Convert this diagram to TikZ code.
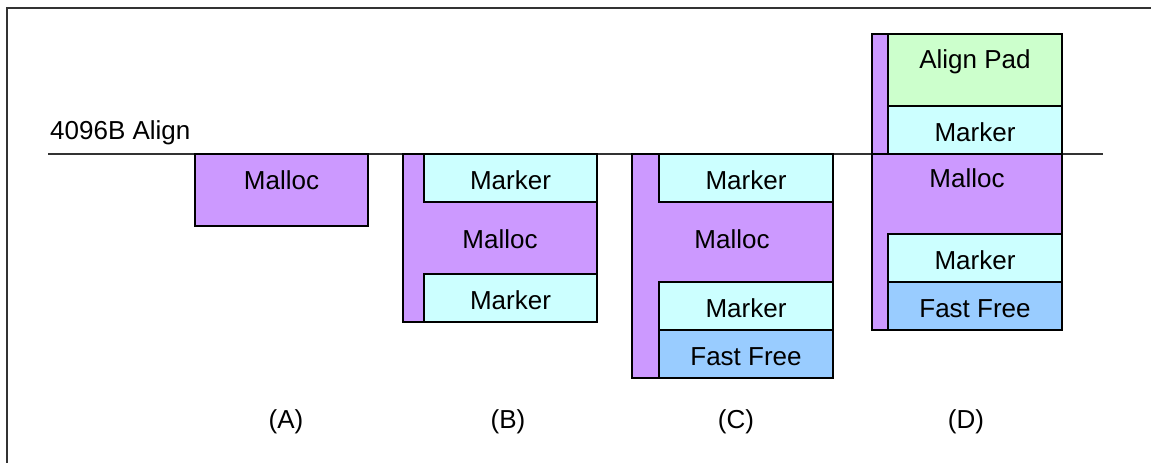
\documentclass[tikz,border=0pt]{standalone}
\usepackage{fontspec}
\setmainfont{Liberation Sans}
\usetikzlibrary{positioning}

\begin{document}
\begin{tikzpicture}[
      x=1pt, y=-1pt,
      every node/.style={font=\fontsize{26}{30}\selectfont},
      blk/.style 2 args={
         draw=black,
         line width=2pt,
         anchor=north west,
         inner sep=0pt,
         outer sep=0pt,
         minimum width=#1pt,
         minimum height=#2pt,
         text height=23pt,
         text depth=0pt
      },
      malloc/.style={fill=mallocc},
      marker/.style={fill=markerc},
      pad/.style={fill=padc},
      fastfree/.style={fill=freec},
      txt/.style={inner sep=0pt, text height=19pt, text depth=0pt},
      rule/.style={draw=black!80, line width=1.5pt}
    ]
    \definecolor{mallocc}{HTML}{CC99FF}
    \definecolor{markerc}{HTML}{CCFFFF}
    \definecolor{padc}{HTML}{CCFFCC}
    \definecolor{freec}{HTML}{99CCFF}
    \useasboundingbox (0,0) rectangle (1151,463);
    % frame (top and left edge only)
    \coordinate (fTL) at (7,8);
    \coordinate (fTR) at (1151,8);
    \coordinate (fBL) at (7,463);
    \draw[rule, line width=2pt] (fTR) -- (fTL) -- (fBL);
    % alignment line
    \coordinate (alL) at (48,154);
    \coordinate (alR) at (1103,154);
    \draw[rule] (alL) -- (alR);
    \node (alText) [txt, anchor=west] at (50,130) {4096B Align};
    % (A)
    \node (aMal) [blk={173}{72}, malloc, text depth=24pt] at (195,154) {Malloc};
    % (B)
    \node (bOut) [blk={194}{168}, malloc] at (403,154) {};
    \node (bMk1) [blk={173}{48}, marker] at (424,154) {Marker};
    \node (bMk2) [blk={173}{48}, marker] at (424,274) {Marker};
    \node (bMal) [txt] at (500,239) {Malloc};
    % (C)
    \node (cOut) [blk={201}{224}, malloc] at (632,154) {};
    \node (cMk1) [blk={174}{48}, marker] at (659,154) {Marker};
    \node (cMk2) [blk={174}{48}, marker] at (659,282) {Marker};
    \node (cFree) [blk={174}{48}, fastfree] at (659,330) {Fast Free};
    \node (cMal) [txt] at (732,239) {Malloc};
    % (D)
    \node (dOut) [blk={190}{296}, malloc] at (872,34) {};
    \node (dPad) [blk={174}{72}, pad, text depth=26pt] at (888,34) {Align Pad};
    \node (dMk1) [blk={174}{48}, marker] at (888,106) {Marker};
    \coordinate (dL) at (872,154);
    \coordinate (dR) at (1062,154);
    \draw[line width=2pt] (dL) -- (dR);
    \node (dMk2) [blk={174}{48}, marker] at (888,234) {Marker};
    \node (dFree) [blk={174}{48}, fastfree] at (888,282) {Fast Free};
    \node (dMal) [txt] at (967,178) {Malloc};
    % captions
    \node (capA) [txt] at (286,419) {(A)};
    \node (capB) [txt] at (508,419) {(B)};
    \node (capC) [txt] at (736,419) {(C)};
    \node (capD) [txt] at (966,419) {(D)};
\end{tikzpicture}
\end{document}
